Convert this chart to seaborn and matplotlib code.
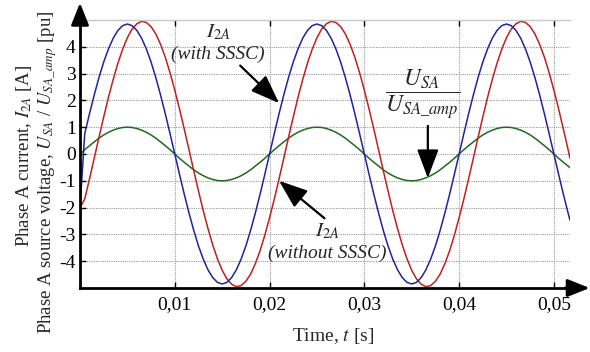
import pandas as pd
import matplotlib
matplotlib.use("Agg")
import matplotlib.pyplot as plt
import seaborn as sns

# sample times in ms (0.5 ms step, last point where the record stops)
time_ms = [k * 0.5 for k in range(104)] + [51.7]

# I2A with SSSC (blue), first sample is the start-up value
i2a_with = [
    -2.00, 0.76, 1.50, 2.20, 2.85, 3.43, 3.92, 4.32, 4.61, 4.79,
    4.85, 4.79, 4.61, 4.32, 3.92, 3.43, 2.85, 2.20, 1.50, 0.76,
    0.00, -0.76, -1.50, -2.20, -2.85, -3.43, -3.92, -4.32, -4.61, -4.79,
    -4.85, -4.79, -4.61, -4.32, -3.92, -3.43, -2.85, -2.20, -1.50, -0.76,
    0.00, 0.76, 1.50, 2.20, 2.85, 3.43, 3.92, 4.32, 4.61, 4.79,
    4.85, 4.79, 4.61, 4.32, 3.92, 3.43, 2.85, 2.20, 1.50, 0.76,
    0.00, -0.76, -1.50, -2.20, -2.85, -3.43, -3.92, -4.32, -4.61, -4.79,
    -4.85, -4.79, -4.61, -4.32, -3.92, -3.43, -2.85, -2.20, -1.50, -0.76,
    0.00, 0.76, 1.50, 2.20, 2.85, 3.43, 3.92, 4.32, 4.61, 4.79,
    4.85, 4.79, 4.61, 4.32, 3.92, 3.43, 2.85, 2.20, 1.50, 0.76,
    0.00, -0.76, -1.50, -2.20, -2.47,
]

# I2A without SSSC (red)
i2a_without = [
    -2.00, -1.68, -0.93, -0.16, 0.62, 1.38, 2.11, 2.78, 3.39, 3.91,
    4.34, 4.66, 4.86, 4.95, 4.91, 4.75, 4.48, 4.09, 3.61, 3.03,
    2.38, 1.68, 0.93, 0.16, -0.62, -1.38, -2.11, -2.78, -3.39, -3.91,
    -4.34, -4.66, -4.86, -4.95, -4.91, -4.75, -4.48, -4.09, -3.61, -3.03,
    -2.38, -1.68, -0.93, -0.16, 0.62, 1.38, 2.11, 2.78, 3.39, 3.91,
    4.34, 4.66, 4.86, 4.95, 4.91, 4.75, 4.48, 4.09, 3.61, 3.03,
    2.38, 1.68, 0.93, 0.16, -0.62, -1.38, -2.11, -2.78, -3.39, -3.91,
    -4.34, -4.66, -4.86, -4.95, -4.91, -4.75, -4.48, -4.09, -3.61, -3.03,
    -2.38, -1.68, -0.93, -0.16, 0.62, 1.38, 2.11, 2.78, 3.39, 3.91,
    4.34, 4.66, 4.86, 4.95, 4.91, 4.75, 4.48, 4.09, 3.61, 3.03,
    2.38, 1.68, 0.93, 0.16, -0.16,
]

# USA / USA_amp (green)
usa_pu = [
    0.00, 0.16, 0.31, 0.45, 0.59, 0.71, 0.81, 0.89, 0.95, 0.99,
    1.00, 0.99, 0.95, 0.89, 0.81, 0.71, 0.59, 0.45, 0.31, 0.16,
    0.00, -0.16, -0.31, -0.45, -0.59, -0.71, -0.81, -0.89, -0.95, -0.99,
    -1.00, -0.99, -0.95, -0.89, -0.81, -0.71, -0.59, -0.45, -0.31, -0.16,
    0.00, 0.16, 0.31, 0.45, 0.59, 0.71, 0.81, 0.89, 0.95, 0.99,
    1.00, 0.99, 0.95, 0.89, 0.81, 0.71, 0.59, 0.45, 0.31, 0.16,
    0.00, -0.16, -0.31, -0.45, -0.59, -0.71, -0.81, -0.89, -0.95, -0.99,
    -1.00, -0.99, -0.95, -0.89, -0.81, -0.71, -0.59, -0.45, -0.31, -0.16,
    0.00, 0.16, 0.31, 0.45, 0.59, 0.71, 0.81, 0.89, 0.95, 0.99,
    1.00, 0.99, 0.95, 0.89, 0.81, 0.71, 0.59, 0.45, 0.31, 0.16,
    0.00, -0.16, -0.31, -0.45, -0.51,
]

x_ticks = [0.01, 0.02, 0.03, 0.04, 0.05]
x_tick_labels = ["0,01", "0,02", "0,03", "0,04", "0,05"]
y_ticks = [-4, -3, -2, -1, 0, 1, 2, 3, 4]

df = pd.DataFrame({
    "t": [v / 1000 for v in time_ms],
    "with": i2a_with,
    "without": i2a_without,
    "usa": usa_pu,
})

sns.set_theme(style="white")
plt.rcParams["font.family"] = ["Liberation Serif", "DejaVu Serif"]
plt.rcParams["mathtext.fontset"] = "stix"

fig = plt.figure(figsize=(5.9, 3.52), dpi=100)
ax = fig.add_axes([80 / 590, 1 - 288 / 352, 490 / 590, 268 / 352])

sns.lineplot(data=df, x="t", y="usa", ax=ax, color="#1f6a1f", lw=1.1)
sns.lineplot(data=df, x="t", y="without", ax=ax, color="#c0201f", lw=1.1)
sns.lineplot(data=df, x="t", y="with", ax=ax, color="#23239a", lw=1.1)

ax.set_xlim(0, 0.0517)
ax.set_ylim(-5, 5)
ax.set_xticks(x_ticks)
ax.set_xticklabels(x_tick_labels)
ax.set_yticks(y_ticks)
ax.set_yticklabels([str(v) for v in y_ticks])
ax.set_xlabel("")
ax.set_ylabel("")
ax.tick_params(axis="both", labelsize=14, colors="black", direction="in", length=4, width=1)
ax.tick_params(axis="x", top=True, bottom=True, pad=6)
ax.tick_params(axis="y", left=True, pad=3)

for v in y_ticks:
    ax.axhline(v, color="#999999", lw=0.8, ls=(0, (1, 1)), zorder=0)
for v in x_ticks:
    ax.axvline(v, color="#999999", lw=0.8, ls=(0, (1, 1)), zorder=0)

ax.spines["right"].set_visible(False)
ax.spines["top"].set_color("#c8c8c8")
ax.spines["top"].set_linewidth(1.0)
ax.spines["left"].set_color("black")
ax.spines["bottom"].set_color("black")
ax.spines["left"].set_linewidth(2)
ax.spines["bottom"].set_linewidth(2)

# arrow heads on axes
ax.annotate("", xy=(1.04, 0), xycoords="axes fraction", xytext=(0.99, 0),
            arrowprops=dict(arrowstyle="-|>,head_length=0.75,head_width=0.3",
                            color="black", lw=2, mutation_scale=18,
                            shrinkA=0, shrinkB=0), annotation_clip=False)
ax.annotate("", xy=(0, 1.064), xycoords="axes fraction", xytext=(0, 0.99),
            arrowprops=dict(arrowstyle="-|>,head_length=0.75,head_width=0.3",
                            color="black", lw=2, mutation_scale=18,
                            shrinkA=0, shrinkB=0), annotation_clip=False)

arrow_kw = dict(arrowstyle="-|>,head_length=0.8,head_width=0.3",
                color="black", lw=1.6, mutation_scale=22, shrinkA=0, shrinkB=0)

# labels on the curves
ax.text(0.01455, 4.52, "$I_{2A}$", fontsize=15, ha="center", va="center")
ax.text(0.01455, 3.7, "(with SSSC)", fontsize=14, style="italic", ha="center", va="center")
ax.annotate("", xy=(0.0210, 1.9), xytext=(0.0169, 3.3), arrowprops=arrow_kw)

ax.text(0.0362, 2.2, r"$\dfrac{U_{SA}}{U_{SA\_amp}}$", fontsize=17, ha="center", va="center")
ax.annotate("", xy=(0.0367, -0.9), xytext=(0.0367, 1.05), arrowprops=arrow_kw)

ax.text(0.0261, -2.9, "$I_{2A}$", fontsize=15, ha="center", va="center")
ax.text(0.0261, -3.7, "(without SSSC)", fontsize=14, style="italic", ha="center", va="center")
ax.annotate("", xy=(0.0210, -1.0), xytext=(0.0258, -2.4), arrowprops=arrow_kw)

fig.text(333 / 590, 1 - 336 / 352, "Time, $t$ [s]", fontsize=14, ha="center", va="center")
fig.text(24 / 590, 1 - 156 / 352, "Phase A current, $I_{2A}$ [A]", fontsize=13.5,
         rotation=90, ha="center", va="center")
fig.text(48 / 590, 1 - 172 / 352, "Phase A source voltage, $U_{SA}$ / $U_{SA\\_amp}$ [pu]",
         fontsize=13.5, rotation=90, ha="center", va="center")

fig.savefig("out.png", dpi=100, facecolor="white")
